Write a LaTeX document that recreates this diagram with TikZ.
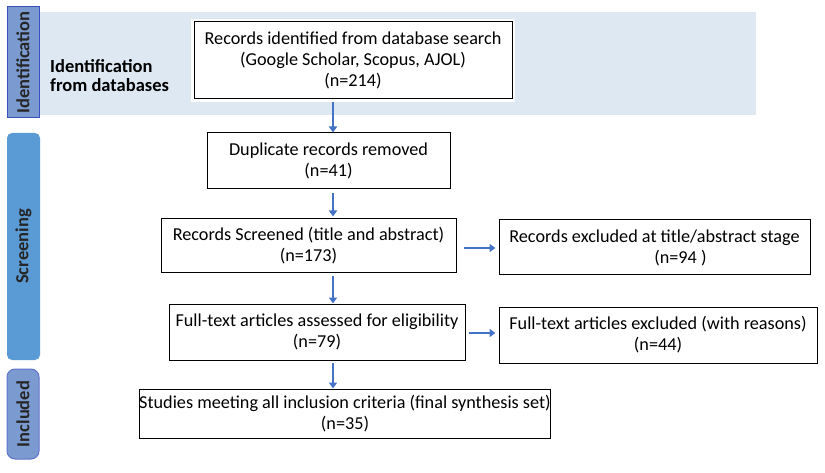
\documentclass[tikz,border=0pt]{standalone}
\usepackage{fontspec}
\setmainfont{Carlito}
\usetikzlibrary{arrows.meta}
\definecolor{band}{HTML}{DDE8F2}
\definecolor{sideA}{HTML}{7B9BD0}
\definecolor{sideAb}{HTML}{3A4FC0}
\definecolor{sideB}{HTML}{5B9BD5}
\definecolor{arrc}{HTML}{4472C4}
\tikzset{
  flowbox/.style={draw=black, line width=1pt, fill=white, align=center, inner sep=0pt,
    font=\fontsize{18.2}{21}\selectfont},
  arr/.style={draw=arrc, line width=1.8pt, -{Triangle[width=8pt,length=6pt]}},
  sidelabel/.style={font=\fontsize{18.5}{20}\selectfont\bfseries, rotate=90, text=black!85},
}
\begin{document}
\begin{tikzpicture}[x=1pt,y=-1pt]
\useasboundingbox (0,0) rectangle (825,473);
% band
\fill[band] (39,12) rectangle (756,115);
\fill[white] (191,19) rectangle (515,102);
% sidebars
\node[draw=sideAb, line width=1pt, fill=sideA, minimum width=32pt, minimum height=111pt, inner sep=0pt] (sid) at (23,62.5) {};
\node[sidelabel] at (sid.center) {Identification};
\node[fill=sideB, rounded corners=5pt, minimum width=33pt, minimum height=227pt, inner sep=0pt] (ssc) at (23.5,246.5) {};
\node[sidelabel] at (ssc.center) {Screening};
\node[draw=sideAb!80, line width=1pt, fill=sideA, rounded corners=8pt, minimum width=32pt, minimum height=90pt, inner sep=0pt] (sin) at (23,414) {};
\node[sidelabel] at (sin.center) {Included};
% band label
\node[font=\fontsize{18.5}{19}\selectfont\bfseries, align=left, anchor=west, inner sep=0pt] (idl) at (50,76) {Identification\\from databases};
% boxes
\node[flowbox, minimum width=318pt, minimum height=77pt] (b1) at (353,60.5)
  {Records identified from database search\\(Google Scholar, Scopus, AJOL)\\(n=214)};
\node[flowbox, minimum width=243pt, minimum height=56pt] (b2) at (328.5,161)
  {Duplicate records removed\\(n=41)};
\node[flowbox, minimum width=295pt, minimum height=54pt] (b3) at (308.5,246)
  {Records Screened (title and abstract)\\(n=173)};
\node[flowbox, minimum width=311pt, minimum height=55pt, align=left] (b4) at (654.5,247.5)
  {Records excluded at title/abstract stage\\\hspace*{145pt}(n=94 )};
\node[flowbox, minimum width=296pt, minimum height=56pt] (b5) at (317,332)
  {Full-text articles assessed for eligibility\\(n=79)};
\node[flowbox, minimum width=318pt, minimum height=56pt] (b6) at (658,335)
  {Full-text articles excluded (with reasons)\\(n=44)};
\node[flowbox, minimum width=410pt, minimum height=49pt] (b7) at (345,413.5)
  {Studies meeting all inclusion criteria (final synthesis set)\\(n=35)};
% connectors
\coordinate (ax) at (333,0);
\draw[arr, shorten <=3pt] (ax |- b1.south) -- (ax |- b2.north);
\draw[arr, shorten <=4pt, shorten >=2pt] (ax |- b2.south) -- (ax |- b3.north);
\draw[arr, shorten <=3pt] (ax |- b3.south) -- (ax |- b5.north);
\draw[arr, shorten <=2pt] (ax |- b5.south) -- (ax |- b7.north);
\coordinate (r1) at (0,248);
\coordinate (r2) at (0,333);
\draw[arr, shorten <=7pt, shorten >=3pt] (b3.east |- r1) -- (b4.west |- r1);
\draw[arr, shorten <=3pt, shorten >=3pt] (b5.east |- r2) -- (b6.west |- r2);
\end{tikzpicture}
\end{document}
